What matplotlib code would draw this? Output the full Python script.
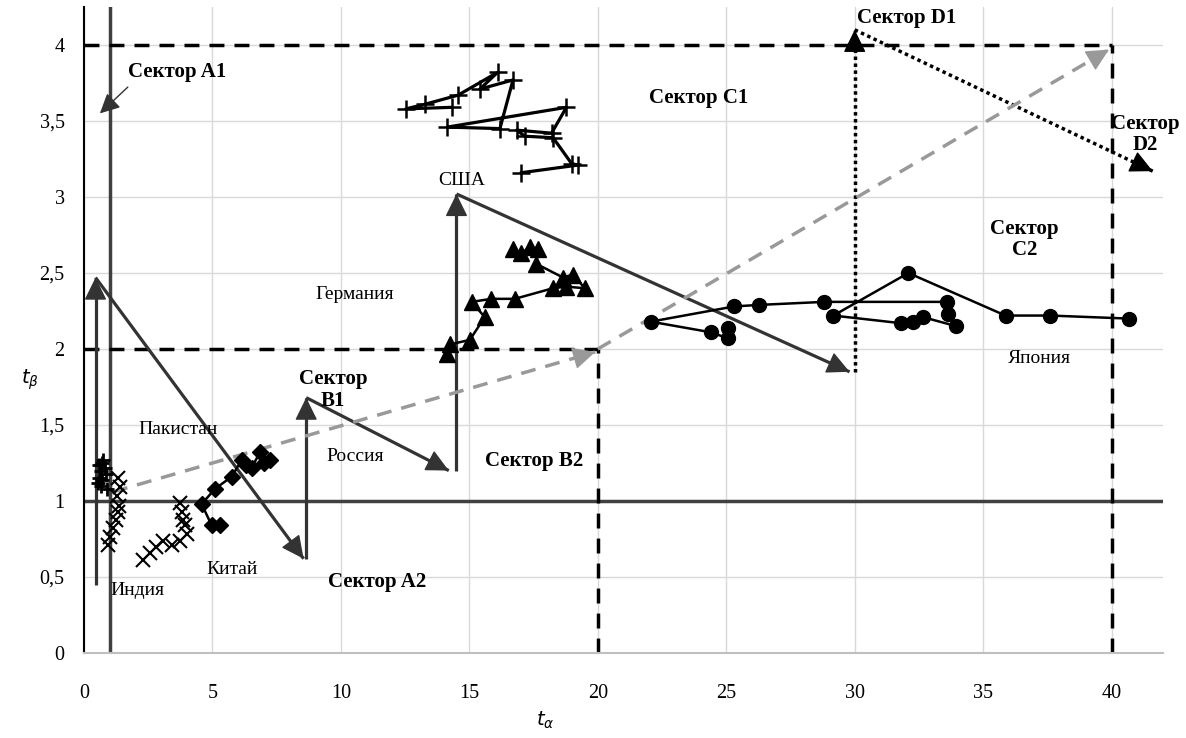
import matplotlib.pyplot as plt

plt.rcParams['font.family'] = ['Liberation Serif', 'DejaVu Serif']
plt.rcParams['mathtext.fontset'] = 'dejavusans'

# country trajectories (t_alpha, t_beta)
usa_x = [14.31, 12.53, 13.27, 14.56, 16.10, 15.41, 16.70, 16.19, 14.14, 18.78, 18.20, 16.84, 17.16, 18.26, 18.98, 19.23, 17.03]
usa_y = [3.59, 3.58, 3.61, 3.67, 3.82, 3.71, 3.77, 3.45, 3.46, 3.59, 3.42, 3.44, 3.40, 3.39, 3.22, 3.21, 3.16]

ger_x = [14.15, 14.25, 15.02, 15.60, 15.09, 15.86, 16.77, 18.26, 18.78, 19.49, 19.04, 18.65, 17.61, 17.68, 17.35, 17.03, 16.70]
ger_y = [1.97, 2.03, 2.06, 2.21, 2.31, 2.33, 2.33, 2.40, 2.41, 2.40, 2.49, 2.47, 2.56, 2.66, 2.67, 2.63, 2.66]

jap_x = [25.07, 25.07, 24.40, 22.06, 25.31, 26.27, 28.81, 33.58, 33.63, 33.96, 32.65, 32.25, 31.79, 29.17, 32.09, 35.87, 37.61, 40.68]
jap_y = [2.14, 2.07, 2.11, 2.18, 2.28, 2.29, 2.31, 2.31, 2.23, 2.15, 2.21, 2.18, 2.17, 2.22, 2.50, 2.22, 2.22, 2.20]

chn_x = [5.29, 4.97, 4.58, 5.10, 5.75, 6.14, 6.30, 6.53, 6.85, 7.00, 7.24]
chn_y = [0.84, 0.84, 0.98, 1.08, 1.16, 1.27, 1.24, 1.22, 1.32, 1.25, 1.27]

ind_x = [0.93, 1.01, 1.13, 1.25, 1.32, 1.36, 1.28, 1.40, 1.32,
         2.30, 2.57, 2.80, 3.07, 3.42, 3.74, 4.01, 3.93, 3.85, 3.81, 3.74]
ind_y = [0.71, 0.76, 0.82, 0.875, 0.93, 0.97, 1.03, 1.09, 1.15,
         0.61, 0.66, 0.70, 0.74, 0.71, 0.74, 0.78, 0.84, 0.875, 0.93, 0.99]

pak_x = [0.55, 0.60, 0.65, 0.70, 0.75, 0.80, 0.65, 0.85, 0.70, 0.90, 0.60]
pak_y = [1.12, 1.15, 1.20, 1.25, 1.27, 1.22, 1.10, 1.18, 1.14, 1.08, 1.24]

# sector arrows: (start, end)
solid_arrows = [((0.45, 0.45), (0.45, 2.47)),
                ((0.45, 2.47), (8.55, 0.62)),
                ((8.65, 0.62), (8.65, 1.68)),
                ((8.65, 1.68), (14.2, 1.2)),
                ((14.5, 1.2), (14.5, 3.02)),
                ((14.5, 3.02), (29.8, 1.85))]
dotted_arrows = [((30.0, 1.85), (30.0, 4.1)),
                 ((30.0, 4.1), (41.6, 3.17))]
gray_arrows = [((1.13, 1.06), (19.9, 1.98)),
               ((20.0, 2.0), (39.9, 3.97))]

fig = plt.figure(figsize=(11.86, 7.38), dpi=100)
ax = fig.add_axes([0.0708, 0.1152, 0.9098, 0.8753])
ax.set_xlim(0, 42)
ax.set_ylim(0, 4.25)

ax.set_xticks(range(0, 45, 5))
ax.set_yticks([0, 0.5, 1, 1.5, 2, 2.5, 3, 3.5, 4])
ax.set_yticklabels(['0', '0,5', '1', '1,5', '2', '2,5', '3', '3,5', '4'])
ax.tick_params(length=0, labelsize=14.5)
ax.tick_params(axis='x', pad=22)
ax.tick_params(axis='y', pad=14)
ax.grid(color='#d9d9d9', lw=1)
ax.set_axisbelow(True)
for s in ['top', 'right']:
    ax.spines[s].set_visible(False)
ax.spines['left'].set_color('black')
ax.spines['left'].set_linewidth(1.5)
ax.spines['bottom'].set_color('#bfbfbf')
ax.spines['bottom'].set_linewidth(1.5)

# sector borders
ax.axhline(1, color='#404040', lw=2.5)
ax.axvline(1, color='#404040', lw=2.5)
dash = (0, (4.3, 2.9))
ax.plot([0, 40], [4, 4], color='black', lw=2.5, linestyle=dash)
ax.plot([40, 40], [0, 4], color='black', lw=2.5, linestyle=dash)
ax.plot([0, 20], [2, 2], color='black', lw=2.5, linestyle=dash)
ax.plot([20, 20], [0, 2], color='black', lw=2.5, linestyle=dash)

head = '-|>,head_length=0.65,head_width=0.32'


def arrow(a, b, color, lw, ls):
    ax.plot([a[0], b[0]], [a[1], b[1]], color=color, lw=lw, linestyle=ls, solid_capstyle='butt')
    back = (b[0] - 0.02 * (b[0] - a[0]), b[1] - 0.02 * (b[1] - a[1]))
    ax.annotate('', xy=b, xytext=back,
                arrowprops=dict(arrowstyle=head, color=color, lw=1,
                                mutation_scale=22, shrinkA=0, shrinkB=0))


for a, b in solid_arrows:
    arrow(a, b, '#333333', 2.3, '-')
for a, b in dotted_arrows:
    arrow(a, b, 'black', 2.5, (0, (1, 1)))
for a, b in gray_arrows:
    arrow(a, b, '#999999', 2.5, dash)

# countries
ax.plot(usa_x, usa_y, color='black', lw=2.3, marker='+', ms=13, mew=1.8, zorder=5)
ax.plot(ger_x, ger_y, color='black', lw=1.8, marker='^', ms=11, zorder=5)
ax.plot(jap_x, jap_y, color='black', lw=1.8, marker='o', ms=10, zorder=5)
ax.plot(chn_x, chn_y, color='black', lw=1.8, marker='D', ms=8, zorder=5)
ax.plot(ind_x, ind_y, color='black', lw=0, marker='x', ms=10, mew=1.5, zorder=5)
ax.plot(pak_x, pak_y, color='black', lw=0, marker='+', ms=10, mew=2, zorder=5)

# sector labels
bold = dict(fontsize=15, fontweight='bold')
ax.annotate('Сектор A1', xy=(0.62, 3.55), xytext=(1.71, 3.82), va='center', ha='left',
            arrowprops=dict(arrowstyle='-|>,head_length=0.6,head_width=0.3', color='#333333', lw=1,
                            mutation_scale=20, shrinkA=2, shrinkB=0, relpos=(0.05, 0)), **bold)
ax.text(22.0, 3.65, 'Сектор C1', ha='left', va='center', **bold)
ax.text(30.1, 4.18, 'Сектор D1', ha='left', va='center', **bold)
ax.text(41.3, 3.41, 'Сектор\nD2', ha='center', va='center', linespacing=1.1, **bold)
ax.text(36.6, 2.72, 'Сектор\nC2', ha='center', va='center', linespacing=1.1, **bold)
ax.text(9.69, 1.73, 'Сектор\nB1', ha='center', va='center', linespacing=1.1, **bold)
ax.text(15.6, 1.26, 'Сектор B2', ha='left', va='center', **bold)
ax.text(9.49, 0.47, 'Сектор A2', ha='left', va='center', **bold)

# country labels
reg = dict(fontsize=14, ha='center', va='center')
ax.text(14.7, 3.11, 'США', **reg)
ax.text(10.54, 2.36, 'Германия', **reg)
ax.text(37.2, 1.94, 'Япония', **reg)
ax.text(3.66, 1.47, 'Пакистан', **reg)
ax.text(10.54, 1.29, 'Россия', **reg)
ax.text(5.76, 0.55, 'Китай', **reg)
ax.text(2.06, 0.41, 'Индия', **reg)

fig.text(545 / 1186, 1 - 720 / 738, r'$t_\alpha$', ha='center', va='center', fontsize=14)
fig.text(30 / 1186, 1 - 380 / 738, r'$t_\beta$', ha='center', va='center', fontsize=14)

fig.savefig('out.png', dpi=100)
